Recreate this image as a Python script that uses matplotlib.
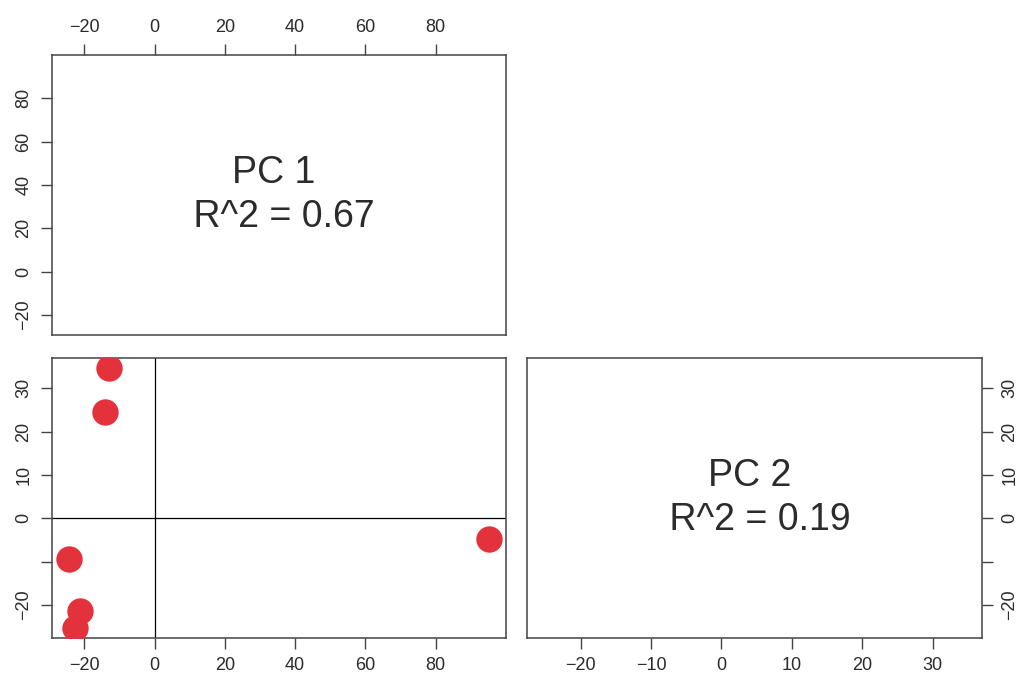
import numpy as np
import matplotlib
matplotlib.use("Agg")
import matplotlib.pyplot as plt

plt.rcParams["font.family"] = ["Liberation Sans", "DejaVu Sans"]

# PCA scores for the six samples
pc1 = [-13.0, -14.0, -24.4, -21.1, -22.7, 95.2]
pc2 = [34.6, 24.6, -9.4, -21.4, -25.2, -4.8]
r2 = [0.67, 0.19]
pc_names = ["PC 1", "PC 2"]

pc1_ticks = [-20, 0, 20, 40, 60, 80]
pc2_ticks = [-20, -10, 0, 10, 20, 30]
pc2_tick_labels = ["\u221220", "", "0", "10", "20", "30"]

point_color = "#e3323b"
frame_color = "#444444"
text_color = "#2b2b2b"


def padded(vals, frac=0.04):
    lo, hi = min(vals), max(vals)
    span = hi - lo
    return lo - frac * span, hi + frac * span


def minus(ticks):
    return [str(t).replace("-", "\u2212") for t in ticks]


def style_axes(ax):
    for s in ax.spines.values():
        s.set_color(frame_color)
        s.set_linewidth(1.1)
    ax.tick_params(length=8, width=1.0, color=frame_color, labelcolor=text_color,
                   labelsize=13, pad=6)


def label_yticks(ax):
    for lab in ax.get_yticklabels():
        lab.set_rotation(90)
        lab.set_va("center")


fig = plt.figure(figsize=(10.24, 6.84), dpi=100)

# panel boxes in figure fractions
left_x0, left_w = 0.0508, 0.4433
right_x0, right_w = 0.5149, 0.4438
top_y0, bot_y0, panel_h = 0.5102, 0.0673, 0.4094

lim1 = padded(pc1)
lim2 = padded(pc2)

# diagonal panel: PC 1
ax1 = fig.add_axes([left_x0, top_y0, left_w, panel_h])
ax1.set_xlim(lim1)
ax1.set_ylim(lim1)
ax1.set_xticks(pc1_ticks)
ax1.set_xticklabels(minus(pc1_ticks))
ax1.set_yticks(pc1_ticks)
ax1.set_yticklabels(minus(pc1_ticks))
ax1.xaxis.tick_top()
style_axes(ax1)
label_yticks(ax1)
ax1.text(0.5, 0.5, "%s \n R^2 = %.2f" % (pc_names[0], r2[0]), transform=ax1.transAxes,
         ha="center", va="center", multialignment="center", fontsize=27,
         color=text_color, linespacing=1.3)

# scatter panel: PC 2 vs PC 1
ax2 = fig.add_axes([left_x0, bot_y0, left_w, panel_h])
ax2.set_xlim(lim1)
ax2.set_ylim(lim2)
ax2.axhline(0, color="black", lw=0.9, zorder=1)
ax2.axvline(0, color="black", lw=0.9, zorder=1)
ax2.plot(pc1, pc2, "o", color=point_color, markersize=19, markeredgewidth=0, zorder=3)
ax2.set_xticks(pc1_ticks)
ax2.set_xticklabels(minus(pc1_ticks))
ax2.set_yticks(pc2_ticks)
ax2.set_yticklabels(pc2_tick_labels)
style_axes(ax2)
label_yticks(ax2)

# diagonal panel: PC 2
ax3 = fig.add_axes([right_x0, bot_y0, right_w, panel_h])
ax3.set_xlim(lim2)
ax3.set_ylim(lim2)
ax3.set_xticks(pc2_ticks)
ax3.set_xticklabels(minus(pc2_ticks))
ax3.set_yticks(pc2_ticks)
ax3.set_yticklabels(pc2_tick_labels)
ax3.yaxis.tick_right()
style_axes(ax3)
label_yticks(ax3)
ax3.text(0.5, 0.5, "%s \n R^2 = %.2f" % (pc_names[1], r2[1]), transform=ax3.transAxes,
         ha="center", va="center", multialignment="center", fontsize=27,
         color=text_color, linespacing=1.3)

fig.savefig("out.png", dpi=100, facecolor="white")
